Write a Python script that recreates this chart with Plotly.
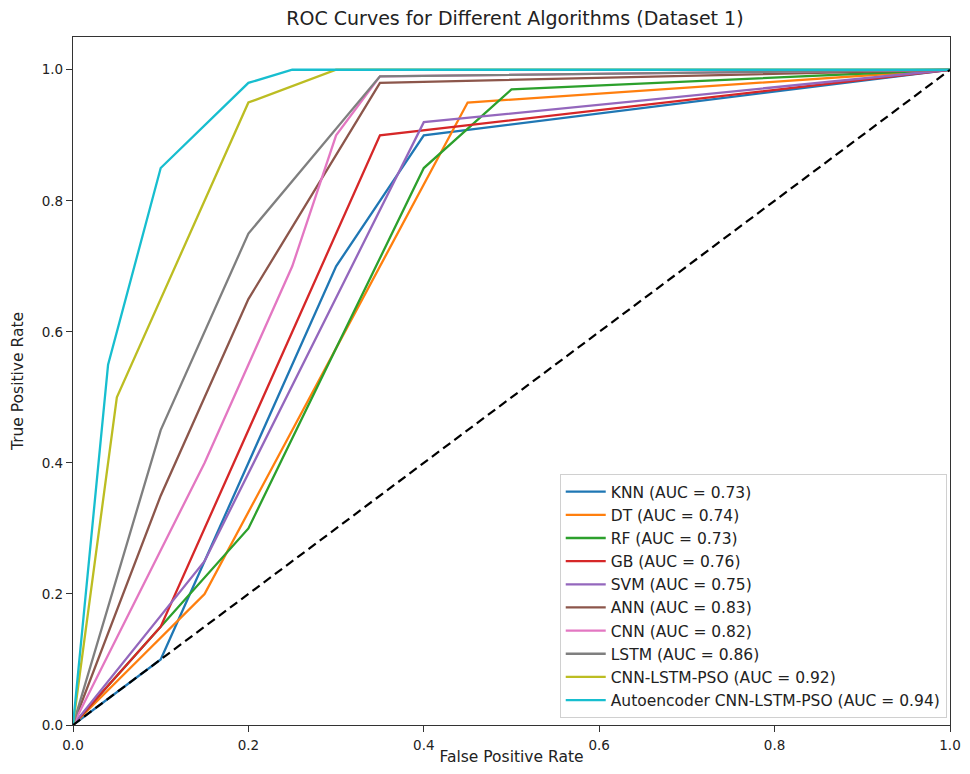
import plotly.graph_objects as go

names = ["KNN", "DT", "RF", "GB", "SVM", "ANN", "CNN", "LSTM", "CNN-LSTM-PSO", "Autoencoder CNN-LSTM-PSO"]
aucs = [0.73, 0.74, 0.73, 0.76, 0.75, 0.83, 0.82, 0.86, 0.92, 0.94]
colors = ["#1f77b4", "#ff7f0e", "#2ca02c", "#d62728", "#9467bd",
          "#8c564b", "#e377c2", "#7f7f7f", "#bcbd22", "#17becf"]

fpr_knn = [0, 0.10, 0.30, 0.40, 1.0]
tpr_knn = [0, 0.10, 0.70, 0.90, 1.0]
fpr_dt = [0, 0.15, 0.45, 1.0]
tpr_dt = [0, 0.20, 0.95, 1.0]
fpr_rf = [0, 0.10, 0.20, 0.40, 0.50, 1.0]
tpr_rf = [0, 0.15, 0.30, 0.85, 0.97, 1.0]
fpr_gb = [0, 0.10, 0.35, 1.0]
tpr_gb = [0, 0.15, 0.90, 1.0]
fpr_svm = [0, 0.15, 0.40, 1.0]
tpr_svm = [0, 0.25, 0.92, 1.0]
fpr_ann = [0, 0.10, 0.20, 0.35, 1.0]
tpr_ann = [0, 0.35, 0.65, 0.98, 1.0]
fpr_cnn = [0, 0.15, 0.25, 0.30, 0.35, 1.0]
tpr_cnn = [0, 0.40, 0.70, 0.90, 0.99, 1.0]
fpr_lstm = [0, 0.10, 0.20, 0.35, 1.0]
tpr_lstm = [0, 0.45, 0.75, 0.99, 1.0]
fpr_clp = [0, 0.05, 0.20, 0.30, 1.0]
tpr_clp = [0, 0.50, 0.95, 1.00, 1.0]
fpr_ae = [0, 0.04, 0.10, 0.20, 0.25, 1.0]
tpr_ae = [0, 0.55, 0.85, 0.98, 1.00, 1.0]

fprs = [fpr_knn, fpr_dt, fpr_rf, fpr_gb, fpr_svm, fpr_ann, fpr_cnn, fpr_lstm, fpr_clp, fpr_ae]
tprs = [tpr_knn, tpr_dt, tpr_rf, tpr_gb, tpr_svm, tpr_ann, tpr_cnn, tpr_lstm, tpr_clp, tpr_ae]

diag_x = [0, 1]
diag_y = [0, 1]

fig = go.Figure()
for n, a, c, fx, ty in zip(names, aucs, colors, fprs, tprs):
    fig.add_trace(go.Scatter(x=fx, y=ty, mode="lines", name=f"{n} (AUC = {a:.2f})",
                             line=dict(color=c, width=2.3)))
fig.add_trace(go.Scatter(x=diag_x, y=diag_y, mode="lines", showlegend=False,
                         line=dict(color="black", width=2.2, dash="9px,5px")))

font = "DejaVu Sans, sans-serif"
axis_common = dict(showline=True, linecolor="#333333", linewidth=1.3, mirror=True,
                   ticks="outside", ticklen=6, tickcolor="#333333", showgrid=False,
                   zeroline=False, tickformat=".1f", tickfont=dict(size=13.5, color="#222222"),
                   dtick=0.2, automargin=False)
fig.update_layout(
    width=954, height=758,
    margin=dict(l=65, r=12, t=29, b=41),
    paper_bgcolor="white", plot_bgcolor="white",
    font=dict(family=font, color="#222222"),
    title=dict(text="ROC Curves for Different Algorithms (Dataset 1)", x=0.5314, xanchor="center",
               y=0.987, yanchor="middle", font=dict(size=19)),
    xaxis=dict(range=[0, 1], ticklabelstandoff=2,
               title=dict(text="False Positive Rate", font=dict(size=15.5), standoff=2), **axis_common),
    yaxis=dict(range=[0, 1.05], title=dict(text="True Positive Rate", font=dict(size=15.5), standoff=14), **axis_common),
    legend=dict(x=0.555, y=0.01, xanchor="left", yanchor="bottom", bgcolor="white",
                bordercolor="#d0d0d0", borderwidth=1, font=dict(size=15.5), itemwidth=40),
)
fig.write_html("out.html", config={"displayModeBar": False})
